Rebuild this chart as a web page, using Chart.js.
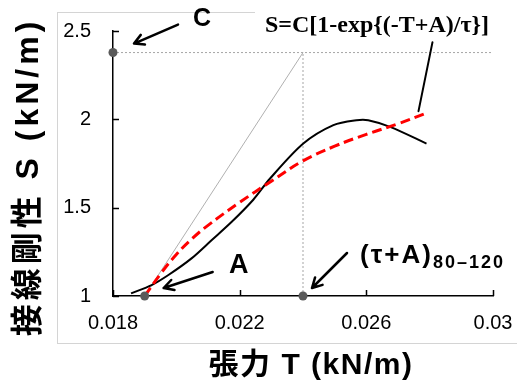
<!DOCTYPE html>
<html>
<head>
<meta charset="utf-8">
<script src="https://cdn.jsdelivr.net/npm/chart.js@4"></script>
<style>
  html, body { margin: 0; padding: 0; background: #fff; }
</style>
</head>
<body>
<canvas id="chart" width="517" height="384"></canvas>
<script>
// axis ticks
const xTicks = [0.018, 0.022, 0.026, 0.03];
const xTickLabels = ['0.018', '0.022', '0.026', '0.03'];
const yTicks = [1, 1.5, 2, 2.5];
const yTickLabels = ['1', '1.5', '2', '2.5'];

// measured stiffness (black line)
const measuredT = [0.01857, 0.01922, 0.01975, 0.02048, 0.02112, 0.02175, 0.02243, 0.02296, 0.02401, 0.02496, 0.02569, 0.02606, 0.02675, 0.0279];
const measuredS = [1.015, 1.062, 1.119, 1.213, 1.317, 1.42, 1.545, 1.665, 1.863, 1.967, 1.995, 1.995, 1.957, 1.863];

// fitted curve (red dashed)
const fitT = [0.019, 0.0195, 0.020, 0.0205, 0.021, 0.022, 0.023, 0.024, 0.025, 0.026, 0.027, 0.0279];
const fitS = [1.0, 1.125, 1.235, 1.325, 1.40, 1.53, 1.65, 1.765, 1.848, 1.915, 1.975, 2.035];

// parameters C, A, tau+A
const paramC = 2.378;
const paramA = 0.019;
const paramTauA = 0.024;

const xTitle = '張力 T (kN/m)';
const yTitle = '接線剛性 S (kN/m)';
const formula = 'S=C[1-exp{(-T+A)/τ}]';

const toPts = (xs, ys) => xs.map((x, i) => ({ x: x, y: ys[i] }));

const cLine = [{ x: 0.018, y: paramC }, { x: 0.03, y: paramC }];
const tauLine = [{ x: paramTauA, y: 1 }, { x: paramTauA, y: paramC }];
const slopeLine = [{ x: paramA, y: 1 }, { x: paramTauA, y: paramC }];
const markPts = [{ x: 0.018, y: paramC }, { x: paramA, y: 1 }, { x: paramTauA, y: 1 }];

const latin = "'Liberation Sans', Arial, 'Noto Sans CJK JP', sans-serif";

function arrow(ctx, x1, y1, x2, y2) {
  const ang = Math.atan2(y2 - y1, x2 - x1);
  const h = 11;
  ctx.beginPath();
  ctx.moveTo(x1, y1);
  ctx.lineTo(x2, y2);
  ctx.moveTo(x2 - h * Math.cos(ang - 0.5), y2 - h * Math.sin(ang - 0.5));
  ctx.lineTo(x2, y2);
  ctx.lineTo(x2 - h * Math.cos(ang + 0.5), y2 - h * Math.sin(ang + 0.5));
  ctx.stroke();
}

const decor = {
  id: 'decor',
  beforeDraw(chart) {
    const ctx = chart.ctx;
    ctx.save();
    ctx.fillStyle = '#fff';
    ctx.fillRect(0, 0, chart.width, chart.height);
    ctx.strokeStyle = '#d4d4d4';
    ctx.lineWidth = 1;
    ctx.strokeRect(57.5, 12.5, 480, 331);
    ctx.restore();
  },
  afterDraw(chart) {
    const ctx = chart.ctx;
    const xs = chart.scales.x, ys = chart.scales.y;
    const area = chart.chartArea;
    ctx.save();
    // inward ticks
    ctx.strokeStyle = '#000';
    ctx.lineWidth = 1.5;
    ctx.beginPath();
    xTicks.forEach(v => {
      const px = Math.round(xs.getPixelForValue(v)) + 0.5;
      ctx.moveTo(px, area.bottom);
      ctx.lineTo(px, area.bottom - 6);
    });
    yTicks.forEach(v => {
      const py = Math.round(ys.getPixelForValue(v)) + 0.5;
      ctx.moveTo(area.left, py);
      ctx.lineTo(area.left + 6, py);
    });
    ctx.stroke();

    // axis titles (letter-spaced like the original)
    ctx.fillStyle = '#000';
    ctx.textAlign = 'center';
    ctx.textBaseline = 'middle';
    ctx.font = 'bold 30px ' + latin;
    ctx.letterSpacing = '1.5px';
    ctx.fillText(xTitle, 311, 366);
    ctx.save();
    ctx.translate(29, 177);
    ctx.rotate(-Math.PI / 2);
    ctx.font = 'bold 32px ' + latin;
    ctx.letterSpacing = '4px';
    ctx.fillText(yTitle, 0, 0);
    ctx.restore();
    ctx.letterSpacing = '0px';

    // annotations, anchored to the marked points
    ctx.lineWidth = 2.5;
    ctx.lineCap = 'round';
    ctx.lineJoin = 'round';
    ctx.font = 'bold 25px ' + latin;

    const cx = xs.getPixelForValue(0.018), cy = ys.getPixelForValue(paramC);
    arrow(ctx, cx + 65, cy - 28, cx + 21, cy - 9);
    ctx.fillText('C', cx + 89, cy - 33);

    const ax = xs.getPixelForValue(paramA), ay = ys.getPixelForValue(1);
    arrow(ctx, ax + 68, ay - 24, ax + 19, ay - 8);
    ctx.font = 'bold 27px ' + latin;
    ctx.fillText('A', ax + 94, ay - 30);

    const tx = xs.getPixelForValue(paramTauA), ty = ys.getPixelForValue(1);
    arrow(ctx, tx + 44, ty - 43, tx + 9, ty - 8);
    ctx.textAlign = 'left';
    ctx.textBaseline = 'alphabetic';
    ctx.font = 'bold 26px ' + latin;
    ctx.letterSpacing = '2px';
    ctx.fillText('(τ+A)', tx + 57, ty - 33);
    const w = ctx.measureText('(τ+A)').width;
    ctx.font = 'bold 18px ' + latin;
    ctx.fillText('80–120', tx + 57 + w, ty - 28);
    ctx.letterSpacing = '0px';

    // formula label with leader line to the fitted curve
    const fx = xs.getPixelForValue(fitT[fitT.length - 1]);
    const fy = ys.getPixelForValue(fitS[fitS.length - 1]);
    ctx.fillStyle = '#fff';
    ctx.fillRect(255, 0, 262, 40);
    ctx.fillStyle = '#000';
    ctx.lineWidth = 2;
    ctx.beginPath();
    ctx.moveTo(fx - 8, fy - 2);
    ctx.lineTo(fx + 6, fy - 71);
    ctx.stroke();
    ctx.font = "bold 24px 'Liberation Serif', 'Times New Roman', serif";
    ctx.textAlign = 'center';
    ctx.fillText(formula, 377, 32);
    ctx.restore();
  }
};

new Chart(document.getElementById('chart').getContext('2d'), {
  type: 'scatter',
  data: {
    datasets: [
      {
        label: 'marks',
        data: markPts,
        clip: false,
        pointRadius: 4.5,
        pointBackgroundColor: '#595959',
        pointBorderWidth: 0
      },
      {
        label: 'fit',
        data: toPts(fitT, fitS),
        showLine: true,
        borderColor: '#ff0000',
        borderWidth: 3,
        borderDash: [10, 5],
        pointRadius: 0,
        tension: 0.4
      },
      {
        label: 'measured',
        data: toPts(measuredT, measuredS),
        showLine: true,
        borderColor: '#000',
        borderWidth: 2,
        pointRadius: 0,
        tension: 0.3
      },
      {
        label: 'C',
        data: cLine,
        showLine: true,
        borderColor: '#a6a6a6',
        borderWidth: 1,
        borderDash: [2, 2],
        pointRadius: 0
      },
      {
        label: 'tau+A',
        data: tauLine,
        showLine: true,
        borderColor: '#a6a6a6',
        borderWidth: 1,
        borderDash: [2, 2],
        pointRadius: 0
      },
      {
        label: 'slope',
        data: slopeLine,
        showLine: true,
        borderColor: '#b0b0b0',
        borderWidth: 1,
        pointRadius: 0
      }
    ]
  },
  options: {
    responsive: false,
    animation: false,
    devicePixelRatio: 1,
    layout: { padding: { left: 10, right: 24, top: 31, bottom: 0 } },
    plugins: {
      legend: { display: false },
      tooltip: { enabled: false }
    },
    scales: {
      x: {
        type: 'linear',
        min: 0.018,
        max: 0.03,
        afterBuildTicks: s => { s.ticks = xTicks.map(v => ({ value: v })); },
        afterFit: s => { s.height = 88; s.paddingLeft = 0; s.paddingRight = 0; },
        grid: { display: false, drawTicks: false },
        border: { display: true, color: '#000', width: 1.5 },
        ticks: {
          padding: 15,
          color: '#000',
          font: { family: latin, size: 20 },
          maxRotation: 0,
          callback: (v, i) => xTickLabels[i]
        }
      },
      y: {
        type: 'linear',
        min: 1,
        max: 2.5,
        afterBuildTicks: s => { s.ticks = yTicks.map(v => ({ value: v })); },
        afterFit: s => { s.width = 103; s.paddingTop = 0; s.paddingBottom = 0; },
        grid: { display: false, drawTicks: false },
        border: { display: true, color: '#000', width: 1.5 },
        ticks: {
          padding: 22,
          color: '#000',
          font: { family: latin, size: 20 },
          callback: (v, i) => yTickLabels[i]
        }
      }
    }
  },
  plugins: [decor]
});
</script>
</body>
</html>
